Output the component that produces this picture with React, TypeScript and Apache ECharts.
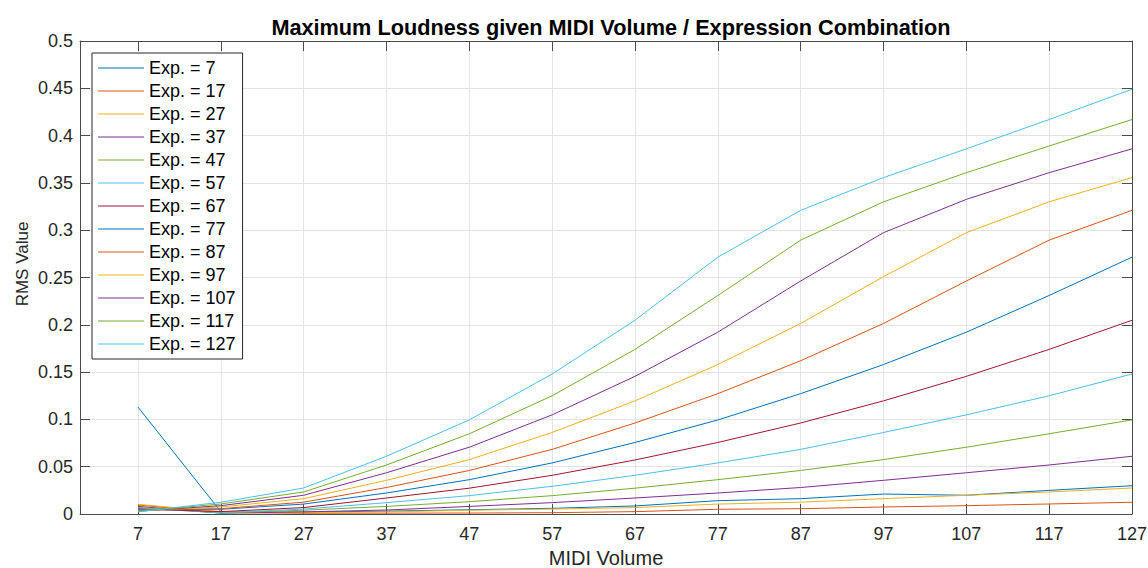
import React, { useEffect, useRef } from "react";
import * as echarts from "echarts";

const volumes = [7, 17, 27, 37, 47, 57, 67, 77, 87, 97, 107, 117, 127];
const expressionNames = [
  "Exp. = 7", "Exp. = 17", "Exp. = 27", "Exp. = 37", "Exp. = 47", "Exp. = 57", "Exp. = 67",
  "Exp. = 77", "Exp. = 87", "Exp. = 97", "Exp. = 107", "Exp. = 117", "Exp. = 127",
];

const exp7 = [0.113, 0.0025, 0.002, 0.003, 0.0045, 0.006, 0.0085, 0.0141, 0.0162, 0.0211, 0.0198, 0.025, 0.0299];
const exp17 = [0.0095, 0.0015, 0.0008, 0.0009, 0.001, 0.0014, 0.0025, 0.005, 0.0056, 0.0074, 0.0088, 0.0106, 0.0124];
const exp27 = [0.0102, 0.0025, 0.0015, 0.0022, 0.004, 0.0052, 0.0068, 0.0105, 0.0125, 0.0162, 0.0198, 0.0233, 0.0275];
const exp37 = [0.008, 0.0009, 0.0022, 0.0042, 0.008, 0.012, 0.0169, 0.0222, 0.028, 0.0356, 0.0436, 0.0518, 0.061];
const exp47 = [0.007, 0.001, 0.004, 0.008, 0.013, 0.0194, 0.0273, 0.0363, 0.046, 0.0575, 0.0706, 0.0848, 0.0995];
const exp57 = [0.006, 0.0014, 0.0052, 0.012, 0.0194, 0.0293, 0.0409, 0.054, 0.0683, 0.0862, 0.1048, 0.125, 0.148];
const exp67 = [0.0053, 0.0025, 0.0068, 0.0169, 0.0273, 0.0409, 0.0571, 0.0756, 0.0962, 0.1196, 0.1455, 0.174, 0.2048];
const exp77 = [0.0046, 0.005, 0.0105, 0.0222, 0.0363, 0.054, 0.0756, 0.0994, 0.1272, 0.158, 0.1922, 0.231, 0.2715];
const exp87 = [0.004, 0.0056, 0.0125, 0.028, 0.046, 0.0683, 0.0962, 0.1272, 0.162, 0.2014, 0.2463, 0.2895, 0.321];
const exp97 = [0.0036, 0.0074, 0.0162, 0.0356, 0.0575, 0.0862, 0.1196, 0.158, 0.2014, 0.2509, 0.2974, 0.33, 0.3556];
const exp107 = [0.003, 0.0088, 0.0198, 0.0436, 0.0706, 0.1048, 0.1455, 0.1922, 0.2463, 0.2974, 0.3326, 0.3608, 0.386];
const exp117 = [0.0027, 0.0106, 0.0233, 0.0518, 0.0848, 0.125, 0.174, 0.231, 0.2895, 0.33, 0.3608, 0.389, 0.417];
const exp127 = [0.0023, 0.0124, 0.0275, 0.061, 0.0995, 0.148, 0.2048, 0.2715, 0.321, 0.3556, 0.386, 0.417, 0.449];

const seriesValues = [exp7, exp17, exp27, exp37, exp47, exp57, exp67, exp77, exp87, exp97, exp107, exp117, exp127];

const colors = [
  "#0072BD", "#D95319", "#EDB120", "#7E2F8E", "#77AC30", "#4DBEEE", "#A2142F",
  "#0072BD", "#D95319", "#EDB120", "#7E2F8E", "#77AC30", "#4DBEEE",
];

const FONT = "'Liberation Sans', Arial, Helvetica, sans-serif";
const AXIS_COLOR = "#4a4a4a";
const TEXT_COLOR = "#262626";

export default function App() {
  const ref = useRef<HTMLDivElement>(null);

  useEffect(() => {
    document.body.style.margin = "0";
    const chart = echarts.init(ref.current!, null, { renderer: "svg" });

    const series = seriesValues.map((vals, i) => ({
      name: expressionNames[i],
      type: "line",
      symbol: "none",
      xAxisIndex: 0,
      yAxisIndex: 0,
      data: vals.map((v, j) => [volumes[j], v]),
      lineStyle: { width: 1, color: colors[i] },
      itemStyle: { color: colors[i] },
    }));

    const baseX = {
      type: "value",
      min: 0,
      max: 127,
      axisLine: { show: true, onZero: false, lineStyle: { color: AXIS_COLOR, width: 1 } },
      axisTick: { show: true, inside: true, length: 10, customValues: volumes, lineStyle: { color: AXIS_COLOR } },
    };
    const baseY = {
      type: "value",
      min: 0,
      max: 0.5,
      interval: 0.05,
      axisLine: { show: true, onZero: false, lineStyle: { color: AXIS_COLOR, width: 1 } },
      axisTick: { show: true, inside: true, length: 10, lineStyle: { color: AXIS_COLOR } },
    };

    chart.setOption({
      animation: false,
      backgroundColor: "#ffffff",
      textStyle: { fontFamily: FONT },
      title: {
        text: "Maximum Loudness given MIDI Volume / Expression Combination",
        left: 606,
        top: 11,
        textAlign: "center",
        textStyle: { fontFamily: FONT, fontSize: 21.7, fontWeight: "bold", color: "#000" },
      },
      grid: { left: 80, right: 16, top: 41, bottom: 54, containLabel: false, outerBoundsMode: "none" },
      legend: {
        orient: "vertical",
        left: 92,
        top: 53,
        padding: [6, 7, 6, 6],
        icon: "rect",
        itemWidth: 46,
        itemHeight: 1.2,
        itemGap: 5,
        borderColor: "#262626",
        borderWidth: 1,
        backgroundColor: "#ffffff",
        textStyle: { fontFamily: FONT, fontSize: 18, color: "#000" },
        data: expressionNames,
      },
      graphic: [
        {
          type: "text",
          x: 22,
          y: 264,
          rotation: Math.PI / 2,
          style: {
            text: "RMS Value",
            fontFamily: FONT,
            fontSize: 17,
            fill: TEXT_COLOR,
            align: "center",
            verticalAlign: "middle",
          },
        },
      ],
      xAxis: [
        {
          ...baseX,
          position: "bottom",
          name: "MIDI Volume",
          nameLocation: "middle",
          nameGap: 29,
          nameTextStyle: { fontFamily: FONT, fontSize: 20, color: TEXT_COLOR },
          axisLabel: { show: true, customValues: volumes, margin: 11, fontFamily: FONT, fontSize: 18, color: TEXT_COLOR },
          splitLine: { show: true, lineStyle: { color: "#e3e3e3", width: 1 } },
        },
        {
          ...baseX,
          position: "top",
          axisLabel: { show: false },
          splitLine: { show: false },
        },
      ],
      yAxis: [
        {
          ...baseY,
          position: "left",
          axisLabel: { show: true, margin: 7, fontFamily: FONT, fontSize: 18, color: TEXT_COLOR },
          splitLine: { show: true, lineStyle: { color: "#e3e3e3", width: 1 } },
        },
        {
          ...baseY,
          position: "right",
          axisLabel: { show: false },
          splitLine: { show: false },
        },
      ],
      series,
    });

    return () => chart.dispose();
  }, []);

  return (
    <div
      ref={ref}
      style={{ position: "absolute", left: 0, top: 0, width: 1148, height: 568 }}
    />
  );
}
